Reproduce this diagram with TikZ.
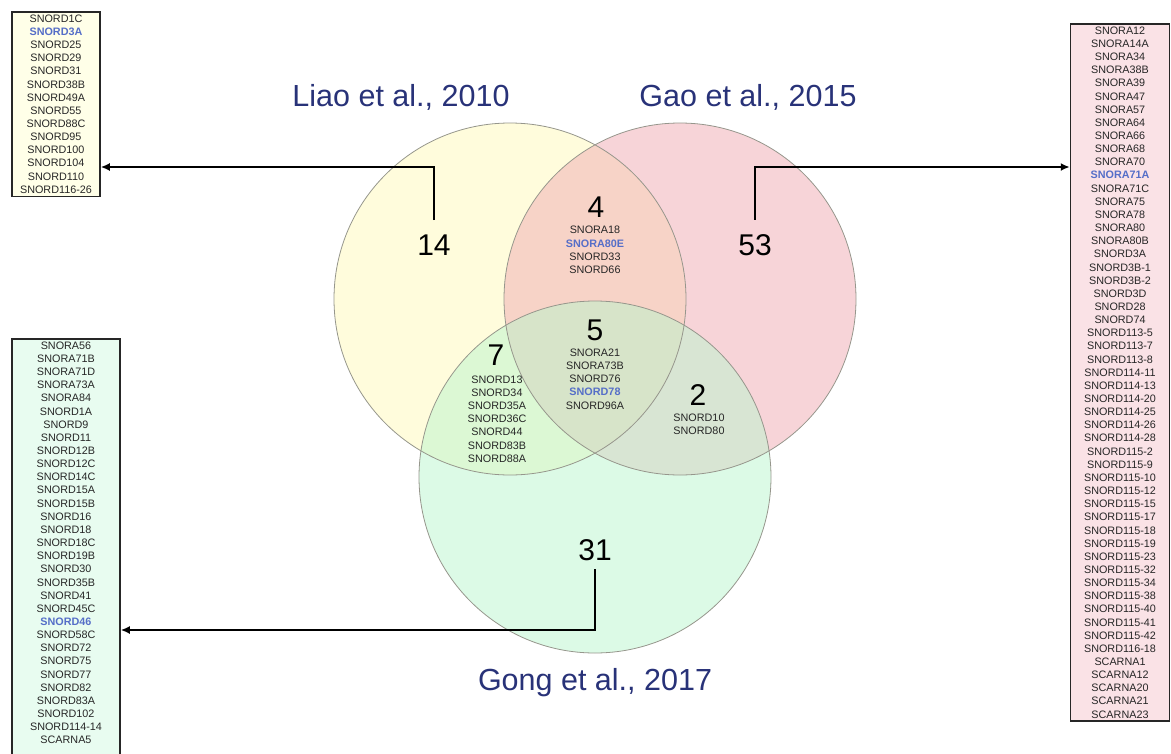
\documentclass[tikz,border=0pt]{standalone}
\usepackage{fontspec}
\setmainfont{Liberation Sans}
\usetikzlibrary{arrows.meta}
\definecolor{navy}{RGB}{40,50,120}
\definecolor{hl}{RGB}{85,110,200}
\definecolor{liaofill}{RGB}{255,250,185}
\definecolor{gaofill}{RGB}{240,170,178}
\definecolor{gongfill}{RGB}{185,245,205}
\definecolor{rim}{RGB}{150,150,140}
\definecolor{liaobg}{RGB}{255,255,232}
\definecolor{gongbg}{RGB}{232,252,240}
\definecolor{gaobg}{RGB}{250,226,230}
\newcommand{\hlgene}[1]{\textcolor{hl}{\textbf{#1}}}
\begin{document}
\begin{tikzpicture}[x=1pt,y=-1pt,
    study/.style={text=navy,font=\fontsize{30.5}{34}\selectfont},
    num/.style={font=\fontsize{30}{34}\selectfont},
    genes/.style={align=center,inner sep=0pt,text=black!85,font=\fontsize{10.8}{13.15}\selectfont},
    listbox/.style={draw=black!85,line width=1.5pt,align=center,inner sep=3pt,text=black!85,font=\fontsize{10.8}{13.15}\selectfont},
    venn/.style={fill opacity=.5},
    link/.style={line width=1.8pt,-{Latex[length=9pt,width=8pt]}}]
  \useasboundingbox (0,0) rectangle (1171,753);
  % the three sets
  \fill[venn,liaofill] (510,299) circle [radius=176];
  \fill[venn,gaofill] (680,299) circle [radius=176];
  \fill[venn,gongfill] (595,477) circle [radius=176];
  \draw[rim,line width=.8pt] (510,299) circle [radius=176];
  \draw[rim,line width=.8pt] (680,299) circle [radius=176];
  \draw[rim,line width=.8pt] (595,477) circle [radius=176];
  % study names
  \node[study] (liao) at (401,97) {Liao et al., 2010};
  \node[study] (gao) at (748,97) {Gao et al., 2015};
  \node[study] (gong) at (595,683) {Gong et al., 2017};
  % counts
  \node[num] (n14) at (434,245) {14};
  \node[num] (n53) at (755,245) {53};
  \node[num] (n4) at (596,207) {4};
  \node[num] (n5) at (595,330) {5};
  \node[num] (n7) at (496,355) {7};
  \node[num] (n2) at (698,395) {2};
  \node[num] (n31) at (595,550) {31};
  % shared genes
  \node[genes] (g4) at (595,250) {SNORA18\\ \hlgene{SNORA80E}\\ SNORD33\\ SNORD66};
  \node[genes] (g5) at (595,379) {SNORA21\\ SNORA73B\\ SNORD76\\ \hlgene{SNORD78}\\ SNORD96A};
  \node[genes] (g7) at (497,419) {SNORD13\\ SNORD34\\ SNORD35A\\ SNORD36C\\ SNORD44\\ SNORD83B\\ SNORD88A};
  \node[genes] (g2) at (699,424) {SNORD10\\ SNORD80};
  % unique genes
  \node[listbox,fill=liaobg,minimum width=88pt,anchor=north] (liaobox) at (56,11)
    {SNORD1C\\ \hlgene{SNORD3A}\\ SNORD25\\ SNORD29\\ SNORD31\\ SNORD38B\\ SNORD49A\\ SNORD55\\
     SNORD88C\\ SNORD95\\ SNORD100\\ SNORD104\\ SNORD110\\ SNORD116-26};
  \node[listbox,fill=gongbg,minimum width=108pt,anchor=north] (gongbox) at (66,338)
    {SNORA56\\ SNORA71B\\ SNORA71D\\ SNORA73A\\ SNORA84\\ SNORD1A\\ SNORD9\\ SNORD11\\ SNORD12B\\
     SNORD12C\\ SNORD14C\\ SNORD15A\\ SNORD15B\\ SNORD16\\ SNORD18\\ SNORD18C\\ SNORD19B\\ SNORD30\\
     SNORD35B\\ SNORD41\\ SNORD45C\\ \hlgene{SNORD46}\\ SNORD58C\\ SNORD72\\ SNORD75\\ SNORD77\\
     SNORD82\\ SNORD83A\\ SNORD102\\ SNORD114-14\\ SCARNA5\\ \strut};
  \node[listbox,fill=gaobg,minimum width=99pt,anchor=north] (gaobox) at (1120,23)
    {SNORA12\\ SNORA14A\\ SNORA34\\ SNORA38B\\ SNORA39\\ SNORA47\\ SNORA57\\ SNORA64\\ SNORA66\\
     SNORA68\\ SNORA70\\ \hlgene{SNORA71A}\\ SNORA71C\\ SNORA75\\ SNORA78\\ SNORA80\\ SNORA80B\\
     SNORD3A\\ SNORD3B-1\\ SNORD3B-2\\ SNORD3D\\ SNORD28\\ SNORD74\\ SNORD113-5\\ SNORD113-7\\
     SNORD113-8\\ SNORD114-11\\ SNORD114-13\\ SNORD114-20\\ SNORD114-25\\ SNORD114-26\\ SNORD114-28\\
     SNORD115-2\\ SNORD115-9\\ SNORD115-10\\ SNORD115-12\\ SNORD115-15\\ SNORD115-17\\ SNORD115-18\\
     SNORD115-19\\ SNORD115-23\\ SNORD115-32\\ SNORD115-34\\ SNORD115-38\\ SNORD115-40\\ SNORD115-41\\
     SNORD115-42\\ SNORD116-18\\ SCARNA1\\ SCARNA12\\ SCARNA20\\ SCARNA21\\ SCARNA23};
  % pointers to the lists
  \coordinate (tipL) at (liaobox.east |- 0,167);
  \coordinate (tipR) at (gaobox.west |- 0,167);
  \coordinate (tipB) at (gongbox.east |- 0,630);
  \draw[link] ([yshift=11pt]n14.north) |- (tipL);
  \draw[link] ([yshift=11pt]n53.north) |- (tipR);
  \draw[link] ([yshift=-5pt]n31.south) |- (tipB);
\end{tikzpicture}
\end{document}
